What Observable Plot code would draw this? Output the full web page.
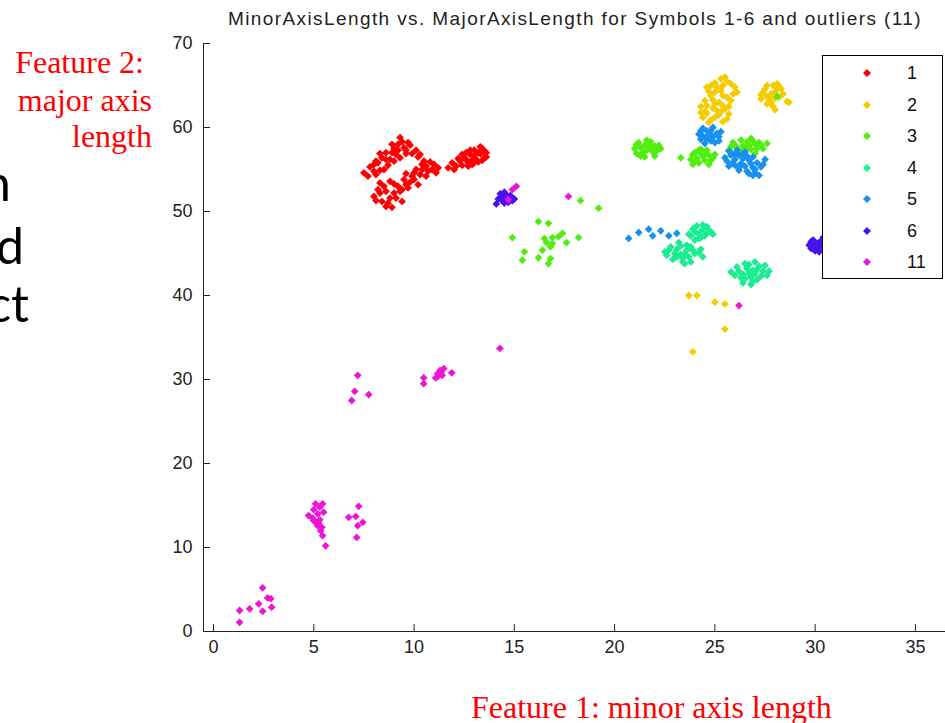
<!DOCTYPE html>
<html>
<head>
<meta charset="utf-8">
<script src="https://cdn.jsdelivr.net/npm/d3@7"></script>
<script src="https://cdn.jsdelivr.net/npm/@observablehq/plot@0.6"></script>
<style>
  body { margin: 0; background: #fff; }
  #page { position: relative; width: 945px; height: 723px; overflow: hidden; background: #fff; }
  #page > svg { position: absolute; left: 0; top: 0; }
  .slide { position: absolute; font-family: Lato, "Open Sans", sans-serif; font-size: 50px; color: #000; white-space: nowrap; line-height: 1; }
  .note { position: absolute; font-family: "Liberation Serif", "Times New Roman", serif; font-size: 32px; color: #f00; white-space: nowrap; line-height: 1; }
  #title { position: absolute; left: 0; width: 1150px; top: 9px; text-align: center; font-family: "Liberation Sans", Arial, sans-serif; font-size: 19px; letter-spacing: 1.4px; color: #222; white-space: nowrap; line-height: 1; }
  #legend { position: absolute; left: 822px; top: 55px; width: 121px; height: 224px; border: 1px solid #000; background: #fff; box-sizing: border-box; font-family: "Liberation Sans", Arial, sans-serif; font-size: 18px; color: #111; }
  #legend .row { position: absolute; left: 0; height: 20px; width: 100%; }
  #legend svg { position: absolute; left: 38px; top: 4px; }
  #legend span { position: absolute; left: 84px; top: 0; line-height: 20px; }
</style>
</head>
<body>
<div id="page"></div>
<script>
// Symbol classes and their colours
const classes = ["1", "2", "3", "4", "5", "6", "11"];
const colors = ["#ff0000", "#f5cc00", "#50ee10", "#18ee90", "#1890ee", "#4812ee", "#ee14d6"];

// MinorAxisLength / MajorAxisLength pairs, one array per symbol class
const class1 = [
  [7.5,54.6],[7.8,55.3],[8.0,54.8],[8.2,55.8],[8.4,56.4],[8.1,56.0],[8.6,57.0],[8.8,56.2],[9.0,57.5],[9.2,58.0],
  [9.3,58.8],[9.5,57.6],[9.1,56.8],[8.7,55.5],[9.8,57.9],[10.1,57.3],[10.3,56.8],[9.6,56.9],[8.3,54.9],
  [7.7,54.2],[8.0,55.6],[8.3,56.9],[8.6,56.2],[8.9,57.0],[9.2,57.3],[9.4,58.3],[9.7,58.2],[9.9,56.9],[10.2,56.5],
  [8.5,55.0],[9.0,56.0],[9.3,56.4],[8.1,54.4],[8.9,58.0],[9.6,57.3],
  [8.0,51.8],[8.2,52.6],[8.4,51.2],[8.6,50.6],[8.9,50.5],[8.8,51.6],[9.0,52.2],[8.5,53.0],[8.8,53.6],[9.2,53.0],
  [9.5,53.8],[9.7,52.8],[9.9,54.2],[10.1,55.0],[10.3,54.4],[10.6,55.4],[10.9,55.0],[11.1,54.6],[10.5,56.0],
  [10.2,53.2],[9.4,51.2],[11.0,55.6],
  [8.1,51.3],[8.3,52.2],[8.6,52.4],[8.7,51.0],[9.1,51.6],[9.3,52.4],[9.0,53.3],[9.4,52.6],[9.6,53.2],[9.8,53.5],
  [10.0,53.8],[10.4,55.0],[10.7,54.8],[10.8,55.9],[10.4,55.6],[10.0,54.6],[9.6,54.5],[11.2,55.2],[10.6,54.2],[8.3,53.4],
  [11.7,55.2],[11.9,55.8],[12.1,55.4],[12.3,56.0],[12.5,56.4],[12.7,55.8],[12.8,56.8],[13.0,57.3],[13.1,56.2],
  [13.3,56.9],[13.5,56.4],[12.9,55.6],[13.2,55.9],[13.6,57.0],[12.6,57.0],[13.4,57.5],[12.4,55.5],
  [12.0,55.0],[12.2,56.3],[12.6,56.2],[12.7,55.4],[13.0,56.6],[13.2,57.0],[13.4,56.1],[13.0,55.8],[13.6,56.5],
  [12.8,57.3],[13.3,57.7],[12.4,56.8],[13.5,57.2],[12.9,56.1]
];
const class2 = [
  [25.5,66.0],[25.0,65.3],[25.8,65.2],[24.6,64.8],[25.3,64.4],[26.0,64.8],[24.8,63.8],[25.6,63.6],[24.5,63.2],
  [25.2,63.0],[26.1,64.2],[24.3,62.5],[24.6,61.7],[24.9,62.3],[25.2,61.5],[25.5,62.2],[24.4,61.2],[24.8,60.9],
  [25.4,60.7],[25.7,61.6],[25.0,62.8],
  [25.3,65.8],[25.6,65.5],[25.1,64.8],[24.8,65.0],[25.4,65.0],[25.9,64.0],[25.0,64.2],[24.7,64.3],[25.4,63.8],
  [25.8,63.2],[24.6,62.6],[25.1,62.0],[25.4,62.6],[24.5,61.9],[25.0,61.2],[25.6,61.0],[24.7,60.6],[25.3,61.9],
  [24.3,61.8],[25.7,62.5],[24.9,63.3],
  [27.3,63.9],[27.5,64.6],[27.7,63.4],[27.9,65.0],[28.0,64.2],[28.2,63.6],[27.6,62.8],[28.3,64.6],[28.6,63.1],
  [27.9,62.5],[28.1,65.2],[28.0,62.1],[28.7,63.0],
  [27.4,64.2],[27.8,64.0],[27.6,65.0],[28.2,64.9],[28.0,63.5],[27.8,63.0],[27.3,63.4],[28.4,64.0],[27.6,63.7],[28.1,64.6],
  [23.7,40.0],[24.1,40.0],[25.0,39.2],[25.5,39.0],[25.5,36.0],[23.9,33.3]
];
const class3 = [
  [21.0,57.5],[21.2,58.2],[21.4,57.0],[21.6,58.5],[21.8,57.6],[22.0,56.6],[22.2,57.9],[21.5,56.5],[21.1,56.9],
  [22.1,57.2],[21.7,58.0],
  [21.3,57.6],[21.5,57.9],[21.9,57.1],[21.8,58.3],[21.3,56.6],[22.3,57.5],[21.6,57.3],[21.1,58.0],[22.0,57.8],
  [23.3,56.4],[23.8,56.2],[24.0,57.0],[24.2,55.8],[24.4,56.6],[24.6,57.3],[24.8,56.1],[25.0,56.8],[24.3,57.4],
  [23.9,55.6],[24.7,55.6],
  [24.1,56.3],[24.5,56.1],[24.3,56.9],[24.7,56.7],[24.0,55.9],[24.5,57.0],[24.9,56.4],[23.9,56.8],[24.2,57.3],
  [25.7,57.3],[25.9,58.2],[26.1,57.6],[26.3,58.5],[26.5,57.0],[26.7,57.9],[26.9,58.4],[27.1,57.5],[27.3,57.9],
  [27.6,58.1],[26.2,56.8],[27.0,56.9],
  [26.0,57.9],[26.4,57.8],[26.6,58.3],[26.8,57.4],[27.2,58.2],[26.3,57.2],[26.8,58.7],[27.4,57.5],[25.8,57.7],
  [26.6,57.5],[27.0,58.0],
  [28.1,63.7],
  [18.3,51.3],[19.2,50.4],[16.2,48.8],[16.7,48.6],[14.9,46.9],[17.4,47.4],[17.6,46.3],[18.2,46.9],[16.9,46.9],
  [16.6,46.3],[16.4,45.4],[15.5,45.2],[15.4,44.2],[16.2,44.5],[16.8,44.4],[16.7,43.8],[16.9,46.2],[16.8,45.8],
  [16.5,46.8],[17.2,47.0]
];
const class4 = [
  [23.7,47.3],[23.9,47.9],[24.1,48.3],[24.3,47.6],[24.5,47.1],[24.7,47.7],[24.9,47.3],[24.2,46.8],[24.0,46.6],[24.6,48.2],
  [24.0,47.6],[24.4,47.9],[24.2,47.3],[24.6,47.4],[24.4,48.4],[23.8,47.1],[24.8,47.6],[24.3,46.9],
  [22.5,45.2],[22.8,45.8],[23.0,45.0],[23.2,46.3],[23.4,44.4],[23.6,45.4],[23.8,44.0],[24.0,45.0],[24.3,45.5],
  [23.5,43.8],[22.9,44.3],[24.4,44.6],[23.3,45.9],
  [22.7,45.4],[23.1,45.5],[23.3,44.9],[23.5,45.0],[23.7,44.6],[23.9,45.4],[23.1,44.6],[23.6,46.0],[24.2,45.1],
  [22.6,44.8],[23.4,44.0],[23.8,45.8],
  [25.8,42.8],[26.1,43.4],[26.3,42.1],[26.5,43.8],[26.7,42.6],[26.9,41.7],[27.1,43.1],[27.3,42.3],[27.5,43.6],
  [27.7,42.9],[26.4,41.5],[27.0,44.0],[26.8,41.3],
  [26.2,42.9],[26.4,42.5],[26.6,43.2],[26.8,42.2],[27.0,42.6],[27.2,43.5],[26.9,43.0],[27.4,42.9],[26.5,42.0],
  [27.1,41.9],[26.0,42.4],[27.6,42.4],[26.7,43.7]
];
const class5 = [
  [24.2,59.2],[24.4,59.9],[24.6,58.7],[24.8,59.6],[25.0,58.2],[25.2,58.9],[24.5,58.1],[25.3,59.5],[24.3,58.6],
  [24.4,59.0],[24.7,59.2],[24.9,58.9],[24.6,59.6],[25.1,59.3],[24.8,58.4],[24.3,59.6],[24.9,60.0],[25.2,58.4],
  [25.5,56.4],[25.7,57.2],[25.9,55.8],[26.0,56.8],[26.2,55.2],[26.4,56.3],[26.6,54.8],[26.8,55.7],[27.0,54.6],
  [26.1,57.3],[26.5,57.1],[25.7,55.4],[27.3,55.3],[27.5,56.2],[26.9,56.5],[27.2,54.3],
  [25.6,56.0],[25.8,56.7],[26.0,56.2],[26.2,56.7],[26.3,55.7],[26.5,55.4],[26.7,56.1],[26.9,55.2],[26.2,54.9],
  [26.7,54.5],[27.1,55.8],[26.4,56.9],[25.8,57.0],[26.9,54.3],[27.0,55.0],[26.6,56.6],[27.4,55.6],[26.0,55.5],
  [20.7,46.8],[21.2,47.5],[21.7,47.9],[21.9,47.1],[22.3,47.7],[22.7,47.1],[23.1,47.4]
];
const class6 = [
  [14.1,50.9],[14.4,51.3],[14.3,52.1],[14.6,51.6],[14.8,51.9],[15.0,51.5],[14.7,51.1],[14.5,52.3],
  [14.2,51.5],[14.5,51.0],[14.9,51.3],[14.4,51.8],[14.6,52.0],
  [29.7,46.0],[29.9,46.6],[30.1,45.6],[30.2,46.3],[30.4,46.9],[30.0,45.3],[29.8,46.4],[30.3,45.8],
  [29.9,45.9],[30.1,46.2],[30.3,46.5],[29.8,45.6],[30.2,45.2],[30.4,46.0]
];
const class11 = [
  [2.45,5.2],[2.7,4.0],[2.85,3.9],[2.25,3.3],[1.8,2.7],[1.3,2.5],[2.45,2.4],[2.9,2.9],[1.3,1.1],
  [5.09,15.2],[5.44,15.2],[5.49,14.2],[4.74,13.8],[4.99,13.2],[5.19,12.6],[5.34,12.0],[5.44,11.4],[5.59,10.2],
  [5.24,12.9],[4.94,13.5],[5.1,13.0],[5.3,13.3],[5.2,14.0],[5.0,14.5],[5.3,14.8],[5.4,12.4],
  [7.24,14.9],[6.74,13.6],[7.09,13.7],[7.44,13.0],[7.19,12.6],[7.14,11.2],
  [7.19,30.5],[7.04,28.6],[6.89,27.5],[7.74,28.2],
  [10.48,30.2],[10.48,29.5],[11.18,30.7],[11.33,30.8],[11.48,31.3],[11.88,30.8],[11.08,30.2],
  [11.2,30.4],[11.3,31.1],[11.4,30.5],
  [14.28,33.7],[14.9,52.6],[15.1,53.0],[14.7,51.4],[17.7,51.8],[26.2,38.8]
];

// Axis ticks and extent
const xTicks = [0, 5, 10, 15, 20, 25, 30, 35];
const yTicks = [0, 10, 20, 30, 40, 50, 60, 70];
const xDomain = [-0.5, 36.5];
const yDomain = [0, 70];

const title = "MinorAxisLength vs. MajorAxisLength for Symbols 1-6 and outliers (11)";
const xNote = "Feature 1: minor axis length";
const yNote = ["Feature 2:", "major axis", "length"];
const slideLines = ["n", "d", "ct"];

const series = [class1, class2, class3, class4, class5, class6, class11];
const points = series.flatMap((arr, i) => arr.map(([x, y]) => ({x, y, cls: classes[i]})));

const tickLenY = 0.85;  // inward x-tick length in y units
const tickLenX = 0.35;  // inward y-tick length in x units

const chart = Plot.plot({
  width: 945,
  height: 723,
  marginLeft: 203,
  marginRight: 0,
  marginTop: 43,
  marginBottom: 92,
  style: {fontFamily: "'Liberation Sans', Arial, sans-serif", fontSize: "18px", color: "#222", background: "transparent"},
  x: {domain: xDomain, ticks: xTicks},
  y: {domain: yDomain, ticks: yTicks},
  color: {domain: classes, range: colors},
  marks: [
    Plot.axisX(xTicks, {tickSize: 0, tickPadding: 9, label: null, fontSize: 18}),
    Plot.axisY(yTicks, {tickSize: 0, tickPadding: 11, label: null, fontSize: 18}),
    Plot.ruleX(xTicks, {x: d => d, y1: yDomain[0], y2: yDomain[0] + tickLenY, stroke: "#222"}),
    Plot.ruleY(yTicks, {y: d => d, x1: xDomain[0], x2: xDomain[0] + tickLenX, stroke: "#222"}),
    Plot.ruleY([yDomain[0]], {stroke: "#222"}),
    Plot.ruleX([xDomain[0]], {stroke: "#222"}),
    Plot.dot(points, {x: "x", y: "y", fill: "cls", symbol: "diamond2", r: 3.5})
  ]
});

const page = document.getElementById("page");
page.appendChild(chart);

// Chart title
const t = document.createElement("div");
t.id = "title";
t.textContent = title;
page.appendChild(t);

// Slide text on the left edge
const slideRights = [11, 24, 29];
const slideBase = [197, 260, 318];
slideLines.forEach((s, i) => {
  const el = document.createElement("div");
  el.className = "slide";
  el.textContent = s;
  el.style.right = (945 - slideRights[i]) + "px";
  el.style.top = (slideBase[i] - 40) + "px";
  page.appendChild(el);
});

// Red feature annotations
const yRights = [144, 152, 152];
const yBase = [73, 111, 147];
yNote.forEach((s, i) => {
  const el = document.createElement("div");
  el.className = "note";
  el.textContent = s;
  el.style.right = (945 - yRights[i]) + "px";
  el.style.top = (yBase[i] - 27) + "px";
  page.appendChild(el);
});
const xn = document.createElement("div");
xn.className = "note";
xn.textContent = xNote;
xn.style.left = "471px";
xn.style.top = (718 - 27) + "px";
page.appendChild(xn);

// Boxed legend over the upper right of the axes
const legend = document.createElement("div");
legend.id = "legend";
classes.forEach((c, i) => {
  const row = document.createElement("div");
  row.className = "row";
  row.style.top = (7 + i * 31.5) + "px";
  row.innerHTML = `<svg width="12" height="12" viewBox="-6 -6 12 12"><path d="M0,-4L4,0L0,4L-4,0Z" fill="${colors[i]}"/></svg><span>${c}</span>`;
  legend.appendChild(row);
});
page.appendChild(legend);
</script>
</body>
</html>
